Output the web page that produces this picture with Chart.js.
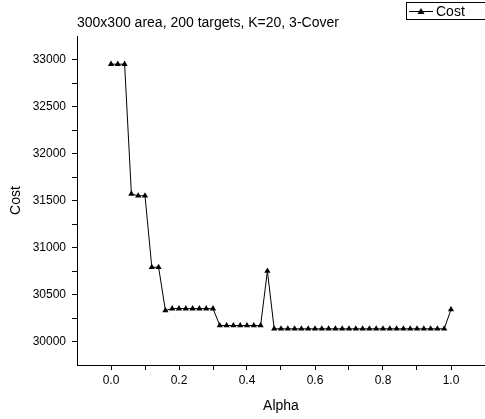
<!DOCTYPE html>
<html>
<head>
<meta charset="utf-8">
<script src="https://cdn.jsdelivr.net/npm/chart.js@4.4.1/dist/chart.umd.min.js"></script>
<style>
  html, body { margin: 0; padding: 0; background: #fff; }
  #wrap { width: 485px; height: 419px; position: relative; }
</style>
</head>
<body>
<div id="wrap"><canvas id="canvas"></canvas></div>
<script>
'use strict';

var chartTitle = '300x300 area, 200 targets, K=20, 3-Cover';
var seriesName = 'Cost';

var alpha = [0, 0.02, 0.04, 0.06, 0.08, 0.1, 0.12, 0.14, 0.16, 0.18,
  0.2, 0.22, 0.24, 0.26, 0.28, 0.3, 0.32, 0.34, 0.36, 0.38,
  0.4, 0.42, 0.44, 0.46, 0.48, 0.5, 0.52, 0.54, 0.56, 0.58,
  0.6, 0.62, 0.64, 0.66, 0.68, 0.7, 0.72, 0.74, 0.76, 0.78,
  0.8, 0.82, 0.84, 0.86, 0.88, 0.9, 0.92, 0.94, 0.96, 0.98, 1.0];

var cost = [32950, 32950, 32950, 31570, 31550, 31550, 30790, 30790, 30330, 30350,
  30350, 30350, 30350, 30350, 30350, 30350, 30170, 30170, 30170, 30170,
  30170, 30170, 30170, 30750, 30135, 30135, 30135, 30135, 30135, 30135,
  30135, 30135, 30135, 30135, 30135, 30135, 30135, 30135, 30135, 30135,
  30135, 30135, 30135, 30135, 30135, 30135, 30135, 30135, 30135, 30135, 30340];

var xTicks = [-0.1, 0, 0.1, 0.2, 0.3, 0.4, 0.5, 0.6, 0.7, 0.8, 0.9, 1.0, 1.1];
var xLabels = ['0.0', '0.2', '0.4', '0.6', '0.8', '1.0'];
var yTicks = [29750, 30000, 30250, 30500, 30750, 31000, 31250, 31500, 31750, 32000, 32250, 32500, 32750, 33000, 33250];

var points = [];
for (var i = 0; i < alpha.length; i++) {
  points.push({x: alpha[i], y: cost[i]});
}

var font = 'Arial, "Liberation Sans", sans-serif';

function xLabel(v) {
  var s = v.toFixed(1);
  return xLabels.includes(s) && Math.abs(v * 10 % 2) < 0.01 ? s : '';
}

// legend box in the top right corner, like the original
var legendBox = {
  id: 'legendBox',
  afterDraw: function (chart) {
    var c = chart.ctx;
    c.save();
    c.strokeStyle = '#000';
    c.lineWidth = 1;
    c.strokeRect(406.5, 2.5, 90, 17);
    c.beginPath();
    c.moveTo(409, 11.5);
    c.lineTo(433, 11.5);
    c.stroke();
    c.fillStyle = '#000';
    c.beginPath();
    c.moveTo(421, 8);
    c.lineTo(424.5, 14);
    c.lineTo(417.5, 14);
    c.closePath();
    c.fill();
    c.font = '14px ' + font;
    c.textBaseline = 'middle';
    c.fillText(seriesName, 436, 12);
    c.restore();
  }
};

var ctx = document.getElementById('canvas').getContext('2d');

var chart = new Chart(ctx, {
  type: 'line',
  data: {
    datasets: [{
      label: seriesName,
      data: points,
      borderColor: '#000',
      backgroundColor: '#000',
      borderWidth: 1,
      pointStyle: 'triangle',
      pointRadius: 3.6,
      pointBorderWidth: 0,
      tension: 0,
      clip: false
    }]
  },
  options: {
    responsive: true,
    maintainAspectRatio: false,
    animation: false,
    layout: { autoPadding: false, padding: 0 },
    plugins: {
      legend: { display: false },
      tooltip: { enabled: false },
      title: {
        display: true,
        text: chartTitle,
        align: 'start',
        fullSize: false,
        color: '#000',
        font: { family: font, size: 14, weight: 'normal' },
        padding: { top: 14.5, bottom: 4.7 }
      }
    },
    scales: {
      x: {
        type: 'linear',
        min: -0.1,
        max: 1.1,
        afterFit: function (s) {
          s.height = 54;
          s.paddingLeft = 0;
          s.paddingRight = 0;
        },
        afterBuildTicks: function (s) {
          s.ticks = xTicks.map(function (v) { return {value: v}; });
        },
        grid: {
          drawOnChartArea: false,
          drawTicks: true,
          tickLength: 5,
          tickColor: function (c) {
            var v = c.tick ? c.tick.value : 0;
            return (v < -0.05 || v > 1.05) ? 'rgba(0,0,0,0)' : '#000';
          }
        },
        border: { display: true, color: '#000', width: 1 },
        ticks: {
          autoSkip: false,
          maxRotation: 0,
          padding: 3,
          color: '#000',
          font: { family: font, size: 12 },
          callback: function (v) { return xLabel(v); }
        },
        title: {
          display: true,
          text: 'Alpha',
          color: '#000',
          font: { family: font, size: 14 },
          padding: { top: 0, bottom: 4.6 }
        }
      },
      y: {
        type: 'linear',
        min: 29750,
        max: 33250,
        afterFit: function (s) {
          s.width = 77;
          s.paddingTop = 0;
          s.paddingBottom = 0;
        },
        afterBuildTicks: function (s) {
          s.ticks = yTicks.map(function (v) { return {value: v}; });
        },
        grid: {
          drawOnChartArea: false,
          drawTicks: true,
          tickLength: 5,
          tickColor: function (c) {
            var v = c.tick ? c.tick.value : 0;
            return (v < 29900 || v > 33100) ? 'rgba(0,0,0,0)' : '#000';
          }
        },
        border: { display: true, color: '#000', width: 1 },
        ticks: {
          autoSkip: false,
          padding: 6,
          color: '#000',
          font: { family: font, size: 12 },
          callback: function (v) { return v % 500 === 0 ? String(v) : ''; }
        },
        title: {
          display: true,
          text: 'Cost',
          color: '#000',
          font: { family: font, size: 14 },
          padding: { top: 7.6, bottom: 0 }
        }
      }
    }
  },
  plugins: [legendBox]
});
</script>
</body>
</html>
